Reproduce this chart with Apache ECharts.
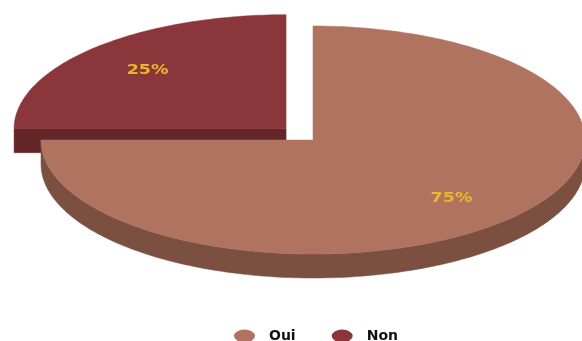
<!DOCTYPE html>
<html>
<head>
<meta charset="utf-8">
<script src="https://cdn.jsdelivr.net/npm/echarts@6/dist/echarts.min.js"></script>
<style>
  html, body { margin: 0; padding: 0; background: #ffffff; }
  #chart { width: 582px; height: 341px; }
</style>
</head>
<body>
<div id="chart"></div>
<script>
// Survey answers shown as a tilted (3D-look) pie
const categories = ['Oui', 'Non'];
const values = [75, 25];
const explodeAmount = [0, 0.14];   // fraction of the radius each slice is pulled out

const topColors = ['#B07360', '#8B363A'];
const sideColors = ['#7B5040', '#642628'];
const labelColor = '#E8B82A';

const total = values.reduce(function (a, b) { return a + b; }, 0);

// Ellipse geometry of the pie's top face
const CX = 313, CY = 140, RX = 272, RY = 114, DEPTH = 24;

function pt(cx, cy, deg, f) {
  const r = deg * Math.PI / 180;
  return [cx + RX * f * Math.cos(r), cy - RY * f * Math.sin(r)];
}

function arcPoints(cx, cy, from, to, dy) {
  const pts = [];
  const n = Math.max(2, Math.ceil(Math.abs(from - to)));
  for (let k = 0; k <= n; k++) {
    const a = from + (to - from) * k / n;
    const p = pt(cx, cy, a, 1);
    pts.push([p[0], p[1] + dy]);
  }
  return pts;
}

function makeRenderItem(i) {
  return function (params, api) {
    const v = api.value(0);
    let before = 0;
    for (let j = 0; j < i; j++) before += values[j];
    const a0 = 90 - before / total * 360;       // slices run clockwise from 12 o'clock
    const sweep = v / total * 360;
    const a1 = a0 - sweep;
    const mid = (a0 + a1) / 2;
    const off = pt(0, 0, mid, explodeAmount[i]);
    const cx = CX + off[0], cy = CY + off[1];

    const children = [];
    const sideStyle = { fill: sideColors[i], stroke: sideColors[i], lineWidth: 0.5 };

    // radial face at the start edge
    if (Math.sin((a0 + 90) * Math.PI / 180) < -1e-6) {
      const p = pt(cx, cy, a0, 1);
      children.push({ type: 'polygon', shape: { points: [[cx, cy], p, [p[0], p[1] + DEPTH], [cx, cy + DEPTH]] }, style: sideStyle });
    }
    // radial face at the end edge
    if (Math.sin((a1 - 90) * Math.PI / 180) < -1e-6) {
      const p = pt(cx, cy, a1, 1);
      children.push({ type: 'polygon', shape: { points: [[cx, cy], p, [p[0], p[1] + DEPTH], [cx, cy + DEPTH]] }, style: sideStyle });
    }
    // outer rim on the front half of the ellipse
    for (let k = -1; k <= 1; k++) {
      const lo = Math.max(a1, -180 + 360 * k);
      const hi = Math.min(a0, 0 + 360 * k);
      if (hi > lo) {
        const topArc = arcPoints(cx, cy, hi, lo, 0);
        const botArc = arcPoints(cx, cy, lo, hi, DEPTH);
        children.push({ type: 'polygon', shape: { points: topArc.concat(botArc) }, style: sideStyle });
      }
    }
    // top face
    const face = [[cx, cy]].concat(arcPoints(cx, cy, a0, a1, 0));
    children.push({ type: 'polygon', shape: { points: face }, style: { fill: topColors[i], stroke: topColors[i], lineWidth: 0.5 } });

    // percentage label on the slice bisector
    const lp = pt(cx, cy, mid, 0.72);
    children.push({
      type: 'text', x: lp[0], y: lp[1], scaleX: 1.25,
      style: {
        text: Math.round(v / total * 100) + '%',
        fill: labelColor,
        font: 'bold 14px "DejaVu Sans", sans-serif',
        align: 'center', verticalAlign: 'middle'
      }
    });
    return { type: 'group', children: children };
  };
}

const chart = echarts.init(document.getElementById('chart'), null, { renderer: 'canvas' });

chart.setOption({
  animation: false,
  backgroundColor: '#ffffff',
  legend: {
    data: categories,
    left: 229,
    top: 324,
    icon: 'path://M0,5A5,5,0,1,1,10,5A5,5,0,1,1,0,5Z',
    symbolKeepAspect: false,
    itemWidth: 21,
    itemHeight: 13,
    itemGap: 36,
    textStyle: {
      color: '#111111',
      fontFamily: '"DejaVu Sans", sans-serif',
      fontWeight: 'bold',
      fontSize: 14,
      padding: [0, 0, 0, 9]
    }
  },
  series: categories.map(function (name, i) {
    return {
      type: 'custom',
      name: name,
      coordinateSystem: 'none',
      z: i === 0 ? 3 : 2,
      itemStyle: { color: topColors[i] },
      renderItem: makeRenderItem(i),
      data: [values[i]]
    };
  })
});
</script>
</body>
</html>
